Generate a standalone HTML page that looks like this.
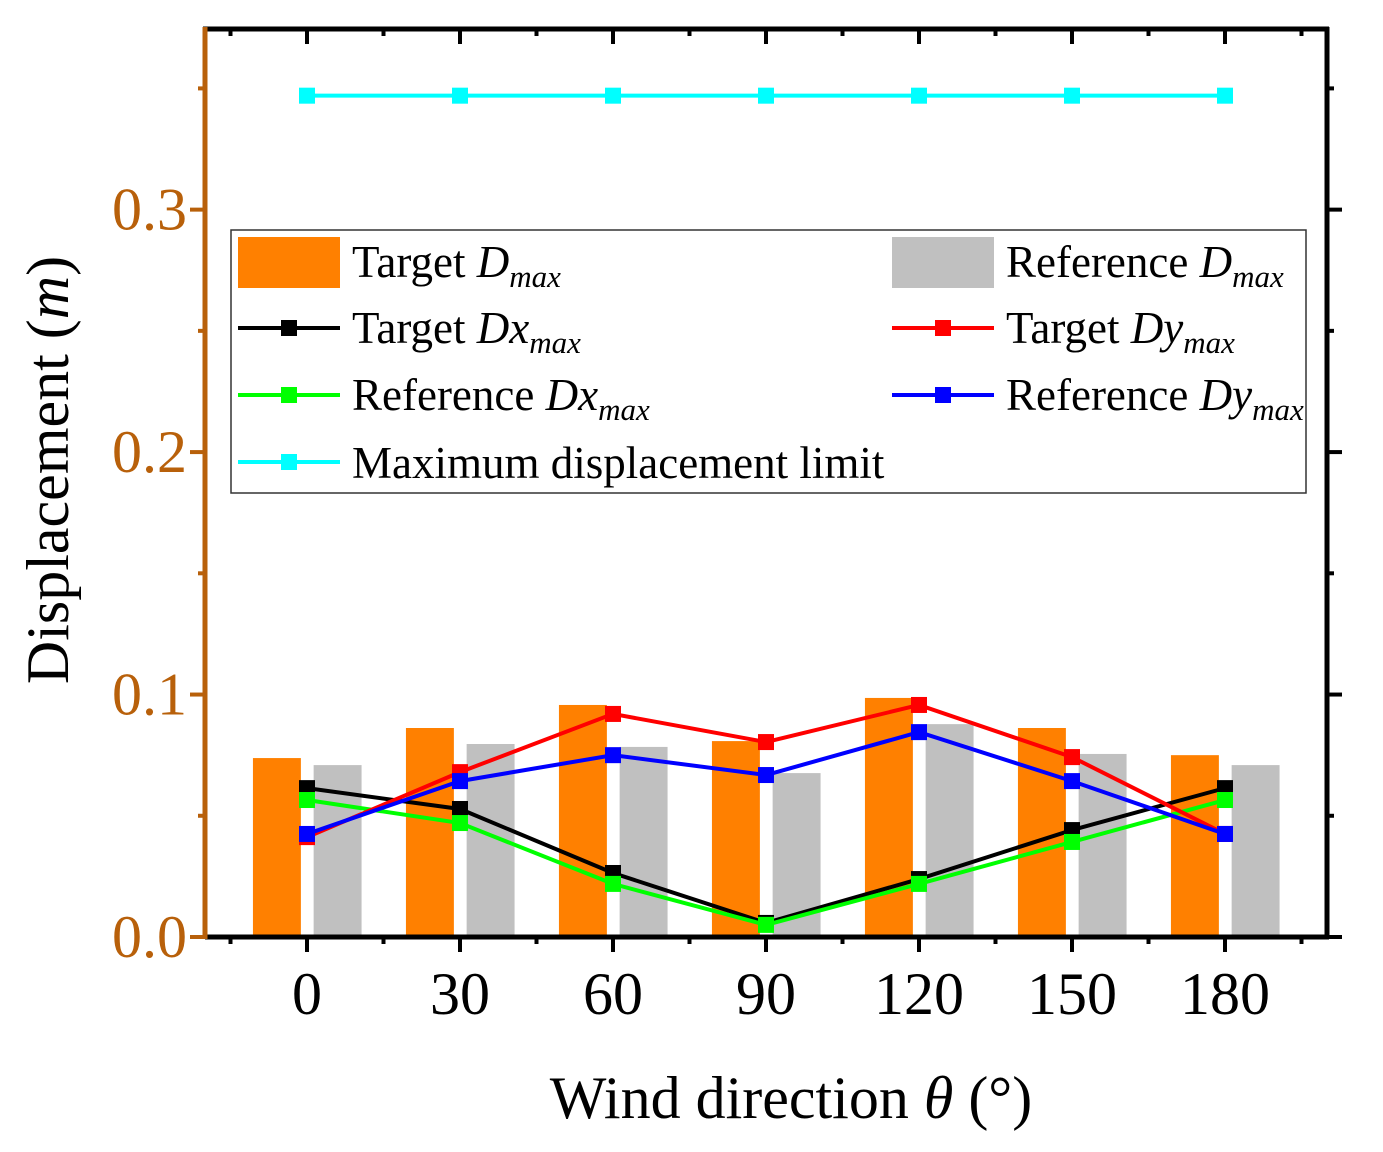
<!DOCTYPE html>
<html><head><meta charset="utf-8"><style>
html,body{margin:0;padding:0;background:#fff;}
svg{display:block;font-family:"Liberation Serif",serif;}
</style></head><body>
<svg id="chart" width="1383" height="1152" viewBox="0 0 1383 1152" xmlns="http://www.w3.org/2000/svg">
<g id="bars"></g>
<g id="lines"></g>
<g id="axes"></g>
<text x="791" y="1118" font-size="60" text-anchor="middle">Wind direction <tspan font-style="italic">θ</tspan> (°)</text>
<text transform="translate(68,470) rotate(-90)" font-size="60" text-anchor="middle">Displacement (<tspan font-style="italic">m</tspan>)</text>
<g id="legend">
<rect x="231" y="230" width="1075" height="263" fill="#fff" stroke="#333" stroke-width="1.5"/>
<rect x="238" y="237" width="102" height="51" fill="#ff8000"/>
<text x="352" y="277" font-size="45">Target <tspan font-style="italic">D</tspan><tspan font-style="italic" font-size="31" dy="10">max</tspan></text>
<rect x="892" y="237" width="102" height="51" fill="#c0c0c0"/>
<text x="1006" y="277" font-size="45">Reference <tspan font-style="italic">D</tspan><tspan font-style="italic" font-size="31" dy="10">max</tspan></text>
<line x1="238" y1="328" x2="340" y2="328" stroke="#000" stroke-width="4"/><rect x="281" y="320" width="16" height="16" fill="#000"/>
<text x="352" y="343" font-size="45">Target <tspan font-style="italic">Dx</tspan><tspan font-style="italic" font-size="31" dy="10">max</tspan></text>
<line x1="892" y1="328" x2="994" y2="328" stroke="#ff0000" stroke-width="4"/><rect x="935" y="320" width="16" height="16" fill="#ff0000"/>
<text x="1006" y="343" font-size="45">Target <tspan font-style="italic">Dy</tspan><tspan font-style="italic" font-size="31" dy="10">max</tspan></text>
<line x1="238" y1="395" x2="340" y2="395" stroke="#00ff00" stroke-width="4"/><rect x="281" y="387" width="16" height="16" fill="#00ff00"/>
<text x="352" y="410" font-size="45">Reference <tspan font-style="italic">Dx</tspan><tspan font-style="italic" font-size="31" dy="10">max</tspan></text>
<line x1="892" y1="395" x2="994" y2="395" stroke="#0000ff" stroke-width="4"/><rect x="935" y="387" width="16" height="16" fill="#0000ff"/>
<text x="1006" y="410" font-size="45">Reference <tspan font-style="italic">Dy</tspan><tspan font-style="italic" font-size="31" dy="10">max</tspan></text>
<line x1="238" y1="462" x2="340" y2="462" stroke="#00ffff" stroke-width="4"/><rect x="281" y="454" width="16" height="16" fill="#00ffff"/>
<text x="352" y="478" font-size="45">Maximum displacement limit</text>
</g>
</svg>
<script>
const categories = [0, 30, 60, 90, 120, 150, 180];
const targetD = [0.0738, 0.0862, 0.0957, 0.0808, 0.0986, 0.0862, 0.075];
const referenceD = [0.0709, 0.0796, 0.0784, 0.0676, 0.0878, 0.0755, 0.0709];
const targetDx = [0.0614, 0.0528, 0.0264, 0.0058, 0.0239, 0.0441, 0.0614];
const referenceDx = [0.0565, 0.047, 0.0219, 0.005, 0.0219, 0.0392, 0.0565];
const targetDy = [0.0412, 0.068, 0.092, 0.0804, 0.0957, 0.0742, 0.0425];
const referenceDy = [0.0425, 0.0643, 0.075, 0.0668, 0.0845, 0.0643, 0.0425];
const limit = [0.347, 0.347, 0.347, 0.347, 0.347, 0.347, 0.347];
const yTicks = [0, 0.1, 0.2, 0.3];
const yTickLabels = ["0.0", "0.1", "0.2", "0.3"];
const xTickLabels = ["0", "30", "60", "90", "120", "150", "180"];

const NS = "http://www.w3.org/2000/svg";
const L = 205, R = 1327, T = 29, B = 937;
const xMin = -20, xMax = 200, yMin = 0, yMax = 0.3745;
function xs(v){ return L + (v - xMin) / (xMax - xMin) * (R - L); }
function ys(v){ return B - (v - yMin) / (yMax - yMin) * (B - T); }
function mk(tag, attrs, parent){ const e = document.createElementNS(NS, tag); for (const k in attrs) e.setAttribute(k, attrs[k]); parent.appendChild(e); return e; }

const bars = document.getElementById('bars');
const barW = 9.4;
categories.forEach((c, i) => {
  let r = mk('rect', {x: xs(c - 5.9 - barW/2), y: ys(targetD[i]), width: xs(barW) - xs(0), height: ys(0) - ys(targetD[i]), fill: '#ff8000'}, bars);
  
  
  let g = mk('rect', {x: xs(c + 6.0 - barW/2), y: ys(referenceD[i]), width: xs(barW) - xs(0), height: ys(0) - ys(referenceD[i]), fill: '#c0c0c0'}, bars);
  
  
});

const lines = document.getElementById('lines');
const series = [[limit,'#00ffff','limit'],[targetDx,'#000000','target-dx'],[referenceDx,'#00ff00','reference-dx'],[targetDy,'#ff0000','target-dy'],[referenceDy,'#0000ff','reference-dy']];
series.forEach(([vals, col, name]) => {
  const pts = categories.map((c, i) => xs(c) + ',' + ys(vals[i])).join(' ');
  const pl = mk('polyline', {points: pts, fill: 'none', stroke: col, 'stroke-width': 4}, lines);
  
  
  categories.forEach((c, i) => {
    const m = mk('rect', {x: xs(c) - 8, y: ys(vals[i]) - 8, width: 16, height: 16, fill: col}, lines);
    
    
  });
});

const axes = document.getElementById('axes');
const brown = '#b8600a';
mk('line', {x1: L - 2, y1: T, x2: R + 2, y2: T, stroke: '#000', 'stroke-width': 5}, axes);
mk('line', {x1: R, y1: T - 2, x2: R, y2: B + 2, stroke: '#000', 'stroke-width': 5}, axes);
mk('line', {x1: L, y1: B, x2: R + 2, y2: B, stroke: '#000', 'stroke-width': 5}, axes);
mk('line', {x1: L, y1: T - 2, x2: L, y2: B + 2, stroke: brown, 'stroke-width': 5}, axes);
for (let v = 0; v <= 0.36; v += 0.05) {
  const major = Math.abs(v*10 - Math.round(v*10)) < 1e-6;
  const y = ys(v), len = major ? 15 : 7;
  mk('line', {x1: L - len, y1: y, x2: L, y2: y, stroke: brown, 'stroke-width': 4}, axes);
  mk('line', {x1: R, y1: y, x2: R + len, y2: y, stroke: '#000', 'stroke-width': 4}, axes);
}
yTicks.forEach((v, i) => {
  const t = mk('text', {x: L - 18, y: ys(v) + 20, 'font-size': 60, fill: brown, 'text-anchor': 'end'}, axes);
  t.textContent = yTickLabels[i];
  
  
});
for (let v = -15; v <= 195; v += 15) {
  const major = v % 30 === 0;
  const x = xs(v), len = major ? 15 : 7;
  mk('line', {x1: x, y1: B, x2: x, y2: B + len, stroke: '#000', 'stroke-width': 4}, axes);
  mk('line', {x1: x, y1: T, x2: x, y2: T + len, stroke: '#000', 'stroke-width': 4}, axes);
}
categories.forEach((c, i) => {
  const t = mk('text', {x: xs(c), y: 1014, 'font-size': 60, 'text-anchor': 'middle'}, axes);
  t.textContent = xTickLabels[i];
  
  
});
</script>
</body></html>
